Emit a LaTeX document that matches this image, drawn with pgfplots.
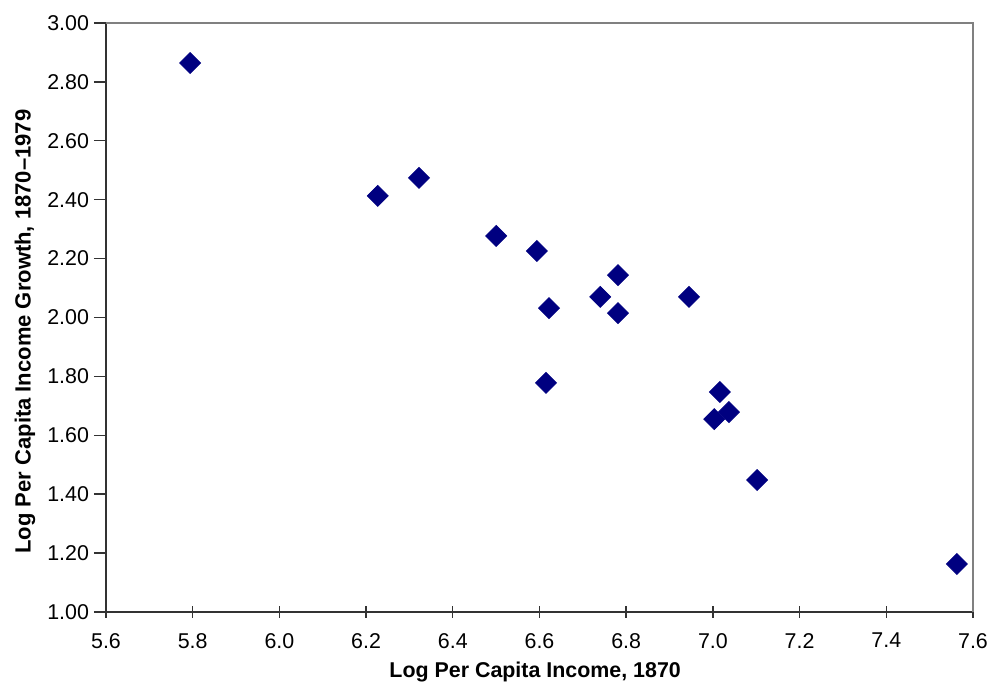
\documentclass[border=0pt]{standalone}
\usepackage{fontspec}
\setmainfont{Liberation Sans}
\usepackage{pgfplots}
\pgfplotsset{compat=1.18}
\definecolor{navy}{RGB}{0,0,128}
\begin{document}
\begin{tikzpicture}
\begin{axis}[
  scale only axis,
  width=433.5pt, height=294.5pt,
  xmin=5.6, xmax=7.6, ymin=1, ymax=3,
  xtick={5.6,5.8,6.0,6.2,6.4,6.6,6.8,7.0,7.2,7.4,7.6},
  ytick={1.0,1.2,1.4,1.6,1.8,2.0,2.2,2.4,2.6,2.8,3.0},
  axis x line*=bottom, axis y line*=left,
  axis line style={draw=black!80, line width=0.8pt},
  tick style={draw=black!80, line width=0.7pt},
  tick align=center, major tick length=6pt,
  y tick style={xshift=-3pt},
  /pgf/number format/assume math mode=true,
  font=\fontsize{10.7pt}{13pt}\selectfont,
  xticklabel style={yshift=-4pt, /pgf/number format/.cd, fixed, fixed zerofill, precision=1},
  yticklabel style={xshift=-2pt, /pgf/number format/.cd, fixed, fixed zerofill, precision=2},
  xlabel={\bfseries Log Per Capita Income, 1870},
  ylabel={\bfseries Log Per Capita Income Growth, 1870--1979},
  xlabel style={at={(axis description cs:0.495,-0.102)}, anchor=center},
  ylabel style={at={(axis description cs:-0.0934,0.476)}, anchor=center, font=\fontsize{11pt}{13pt}\selectfont},
  clip=false,
]
\draw[gray, line width=0.6pt] (rel axis cs:0,1) -- (rel axis cs:1,1) -- (rel axis cs:1,0);
\coordinate (ll) at (rel axis cs:0,0);
\addplot[only marks, mark=square*, mark size=3.7pt, mark options={rotate=45, fill=navy, draw=navy}] coordinates {
(5.794,2.864)
(6.227,2.413)
(6.322,2.474)
(6.500,2.277)
(6.594,2.226)
(6.622,2.032)
(6.615,1.778)
(6.740,2.070)
(6.781,2.144)
(6.781,2.015)
(6.945,2.070)
(7.016,1.747)
(7.003,1.655)
(7.037,1.679)
(7.102,1.448)
(7.563,1.163)
};
\end{axis}
\pgfresetboundingbox
\path[use as bounding box] (ll) ++(-53pt,-39pt) rectangle ++(496pt,345pt);
\end{tikzpicture}
\end{document}
